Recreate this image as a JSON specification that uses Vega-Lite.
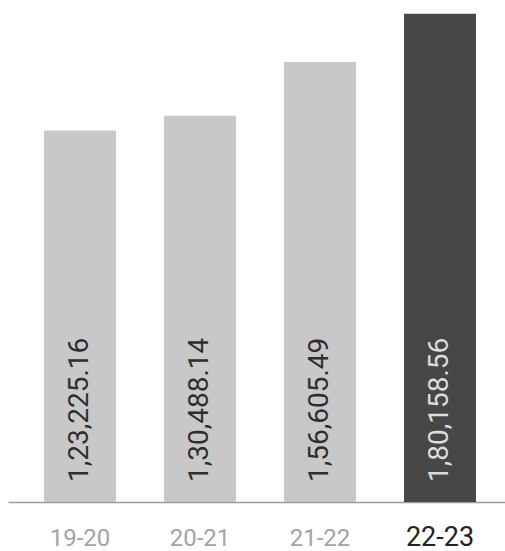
{
  "$schema": "https://vega.github.io/schema/vega-lite/v6.json",
  "autosize": {"type": "none"},
  "padding": {"left": 8, "right": 0, "top": 0, "bottom": 49},
  "width": 497,
  "height": 502,
  "background": "white",
  "config": {"view": {"stroke": null}, "font": "Roboto"},
  "data": {
    "values": [
      {"year": "19-20", "value": 123225.16, "label": "1,23,225.16", "current": false},
      {"year": "20-21", "value": 130488.14, "label": "1,30,488.14", "current": false},
      {"year": "21-22", "value": 156605.49, "label": "1,56,605.49", "current": false},
      {"year": "22-23", "value": 180158.56, "label": "1,80,158.56", "current": true}
    ]
  },
  "encoding": {
    "x": {
      "field": "year",
      "type": "nominal",
      "sort": null,
      "scale": {"paddingInner": 0.4, "paddingOuter": 0.2708, "align": 0.554},
      "axis": {
        "title": null,
        "ticks": false,
        "tickSize": 0,
        "grid": false,
        "domainColor": "#9a9a9a",
        "domainWidth": 1.5,
        "labelAngle": 0,
        "labelBaseline": "alphabetic",
        "labelPadding": 43,
        "labelFont": "Roboto",
        "labelFontSize": {"condition": {"test": "datum.value === '22-23'", "value": 27}, "value": 24},
        "labelColor": {"condition": {"test": "datum.value === '22-23'", "value": "#222222"}, "value": "#a3a3a3"}
      }
    }
  },
  "layer": [
    {
      "mark": {"type": "bar"},
      "encoding": {
        "y": {
          "field": "value",
          "type": "quantitative",
          "scale": {"domain": [-57600, 186800], "zero": false, "nice": false},
          "axis": null
        },
        "y2": {"datum": -57600},
        "color": {
          "field": "current",
          "type": "nominal",
          "scale": {"domain": [false, true], "range": ["#c8c8c8", "#474747"]},
          "legend": null
        }
      }
    },
    {
      "mark": {"type": "text", "angle": 270, "align": "left", "baseline": "middle", "dx": 20, "fontSize": 28, "font": "Roboto"},
      "encoding": {
        "y": {"datum": -57600, "scale": {"domain": [-57600, 186800], "zero": false, "nice": false}},
        "text": {"field": "label"},
        "color": {
          "field": "current",
          "type": "nominal",
          "scale": {"domain": [false, true], "range": ["#2e2e2e", "#dcdcdc"]},
          "legend": null
        }
      }
    }
  ],
  "resolve": {"scale": {"color": "independent"}}
}
